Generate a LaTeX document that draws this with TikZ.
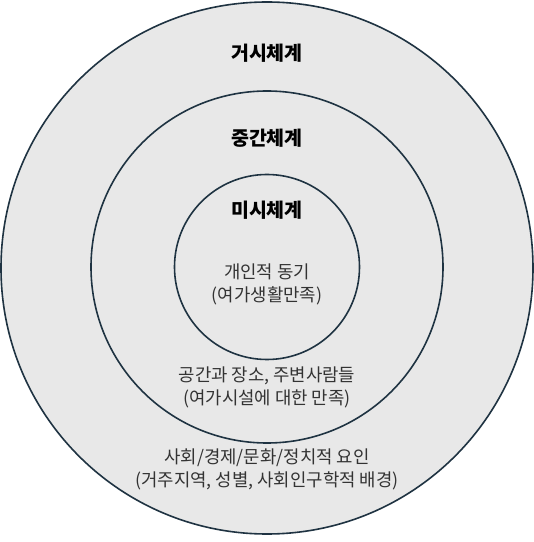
\documentclass[tikz,border=0pt]{standalone}
\usepackage{fontspec}
\setmainfont{Noto Sans CJK KR}
\usetikzlibrary{positioning}
\definecolor{ringline}{HTML}{1F3342}
\definecolor{ringfill}{HTML}{E8E8E8}
\definecolor{desctext}{HTML}{333333}
\begin{document}
\begin{tikzpicture}[
    x=1pt, y=1pt,
    ring/.style ={circle, draw=ringline, line width=1.6pt, fill=ringfill, inner sep=0pt},
    level/.style={font=\fontsize{19.5}{22}\selectfont\bfseries, text=black},
    desc/.style ={font=\fontsize{17.8}{23}\selectfont, text=desctext, align=center},
]
\useasboundingbox (0,0) rectangle (534,542);
\node[ring, minimum size=532pt] (macro) at (267,274) {};
\node[ring, minimum size=352pt] (meso)  at (267,275) {};
\node[ring, minimum size=185pt] (micro) at (267,275) {};
\node[level] (macrot) at (267,489) {거시체계};
\node[level] (mesot)  at (267,404) {중간체계};
\node[level] (microt) at (267,332) {미시체계};
\node[desc] (microd) at (267,258)   {개인적 동기\\(여가생활만족)};
\node[desc] (mesod)  at (267,154.5) {공간과 장소, 주변사람들\\(여가시설에 대한 만족)};
\node[desc] (macrod) at (267,73)    {사회/경제/문화/정치적 요인\\(거주지역, 성별, 사회인구학적 배경)};
\end{tikzpicture}
\end{document}
